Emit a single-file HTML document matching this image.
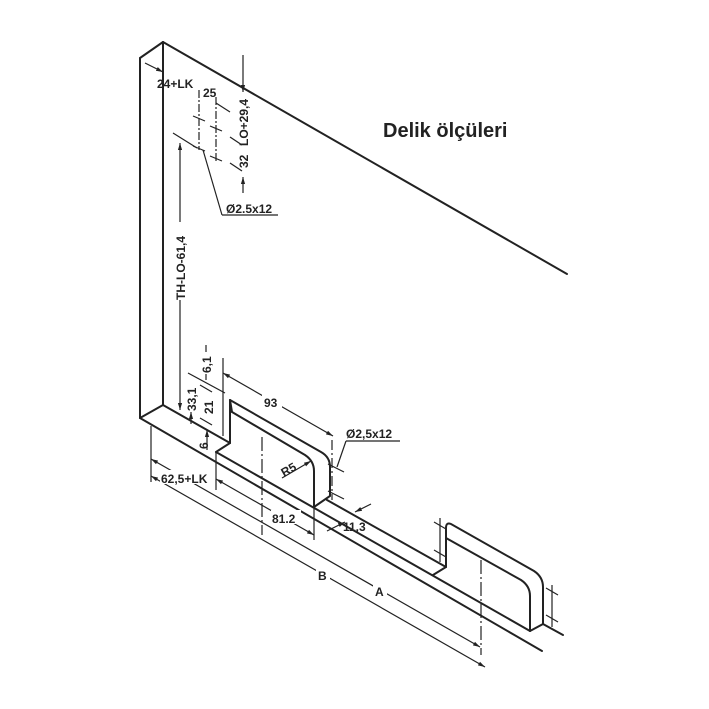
<!DOCTYPE html>
<html><head><meta charset="utf-8"><style>
html,body{margin:0;padding:0;background:#fff;}
svg{display:block;}
text{font-family:"Liberation Sans",Arial,sans-serif;font-weight:bold;fill:#222;}
</style></head><body>
<svg width="709" height="709" viewBox="0 0 709 709" xmlns="http://www.w3.org/2000/svg">
<defs>
<marker id="ar" viewBox="0 0 10 10" refX="10" refY="5" markerWidth="7" markerHeight="7" orient="auto-start-reverse" markerUnits="userSpaceOnUse"><path d="M0,2 L10,5 L0,8 z" fill="#222"/></marker>
</defs>
<g stroke="#222" stroke-width="2" fill="none" stroke-linecap="round">
<line x1="140" y1="58" x2="140" y2="418"/>
<line x1="163" y1="42" x2="163" y2="405"/>
<line x1="140" y1="58" x2="163" y2="42"/>
<line x1="163" y1="42" x2="567" y2="274"/>
<line x1="140" y1="418" x2="163" y2="405"/>
<line x1="163" y1="405" x2="230" y2="443"/>
<line x1="327" y1="500" x2="446" y2="567"/>
<line x1="543" y1="624" x2="563" y2="635"/>
<line x1="216" y1="452" x2="530" y2="631"/>
<line x1="140" y1="418" x2="542" y2="651"/>
<line x1="230" y1="443" x2="216" y2="452"/>
<line x1="230" y1="400" x2="230" y2="443"/>
<path d="M230,400 L321,452 Q330,457 330,467 L330,496 L314,507"/>
<path d="M232,412 L305,455 Q314,461 314,471 L314,507"/>
<line x1="230" y1="400" x2="232" y2="412"/>
<line x1="446" y1="567" x2="433" y2="575"/>
<path d="M446,567 L446,528 Q446,522 451,524 L534,571 Q543,577 543,587 L543,624 L530,631"/>
<path d="M446,538 L521,580 Q530,586 530,596 L530,631"/>
</g>
<g stroke="#222" stroke-width="1.2" fill="none">
<line x1="151" y1="426" x2="151" y2="482"/>
<line x1="216" y1="452" x2="216" y2="490"/>
<line x1="314" y1="507" x2="314" y2="540"/>
<line x1="223" y1="358" x2="223" y2="436"/>
<line x1="151" y1="459" x2="480" y2="647" marker-start="url(#ar)" marker-end="url(#ar)"/>
<line x1="151" y1="476" x2="485" y2="667" marker-start="url(#ar)" marker-end="url(#ar)"/>
<line x1="216" y1="479" x2="314" y2="535" marker-start="url(#ar)" marker-end="url(#ar)"/>
<line x1="223" y1="373" x2="333" y2="436" marker-start="url(#ar)" marker-end="url(#ar)"/>
<line x1="262" y1="437" x2="262" y2="535" stroke-dasharray="14,3,2,3"/>
<line x1="481" y1="560" x2="481" y2="655" stroke-dasharray="14,3,2,3"/>
<line x1="332" y1="440" x2="332" y2="500" stroke-dasharray="10,3,2,3"/>
<line x1="355" y1="512" x2="371" y2="504" marker-start="url(#ar)"/>
<line x1="327" y1="531" x2="345" y2="522" marker-end="url(#ar)"/>
<line x1="337" y1="467" x2="346" y2="441"/>
<line x1="346" y1="441" x2="400" y2="441"/>
<line x1="328" y1="464" x2="344" y2="472"/>
<line x1="328" y1="491" x2="344" y2="499"/>
<line x1="440" y1="518" x2="440" y2="562"/>
<line x1="434" y1="522" x2="446" y2="529"/>
<line x1="434" y1="550" x2="446" y2="557"/>
<line x1="552" y1="585" x2="552" y2="627"/>
<line x1="546" y1="588" x2="558" y2="595"/>
<line x1="546" y1="615" x2="558" y2="622"/>
<line x1="282" y1="478" x2="311" y2="461" marker-end="url(#ar)"/>
<line x1="188" y1="373" x2="225" y2="393"/>
<line x1="180" y1="300" x2="180" y2="410" marker-end="url(#ar)"/>
<line x1="206" y1="345" x2="206" y2="352"/>
<line x1="206" y1="374" x2="206" y2="380" />
<line x1="191" y1="412" x2="191" y2="424" marker-start="url(#ar)"/>
<line x1="207" y1="430" x2="207" y2="450" marker-start="url(#ar)"/>
<line x1="200" y1="385" x2="212" y2="392"/>
<line x1="200" y1="418" x2="212" y2="425"/>
<line x1="145" y1="63" x2="163" y2="72" marker-end="url(#ar)"/>
<line x1="199" y1="90" x2="199" y2="150" stroke-dasharray="8,2,2,2"/>
<line x1="216" y1="97" x2="216" y2="163" stroke-dasharray="8,2,2,2"/>
<line x1="193" y1="116" x2="205" y2="121"/>
<line x1="210" y1="126" x2="222" y2="131"/>
<line x1="193" y1="146" x2="205" y2="151"/>
<line x1="210" y1="156" x2="222" y2="161"/>
<line x1="216" y1="103" x2="230" y2="112"/>
<line x1="230" y1="137" x2="242" y2="145"/>
<line x1="230" y1="163" x2="242" y2="171"/>
<line x1="243" y1="55" x2="243" y2="92" marker-end="url(#ar)"/>
<line x1="243" y1="193" x2="243" y2="177" marker-end="url(#ar)"/>
<line x1="173" y1="133" x2="197" y2="148"/>
<line x1="180" y1="143" x2="180" y2="222" marker-start="url(#ar)"/>
<line x1="203" y1="150" x2="222" y2="215"/>
<line x1="222" y1="215" x2="278" y2="215"/>
</g>
<g font-size="12">
<text x="383" y="137" font-size="20">Delik ölçüleri</text>
<text x="157" y="88">24+LK</text>
<text x="203" y="97">25</text>
<text transform="translate(248,146) rotate(-90)">LO+29,4</text>
<text transform="translate(248,168) rotate(-90)">32</text>
<text x="226" y="213">Ø2.5x12</text>
<text transform="translate(185,300) rotate(-90)">TH-LO-61,4</text>
<text transform="translate(211,373) rotate(-90)">6,1</text>
<text transform="translate(196,411) rotate(-90)">33,1</text>
<text transform="translate(213,414) rotate(-90)">21</text>
<text transform="translate(208,449) rotate(-90)">6</text>
<rect x="262" y="394" width="20" height="14" fill="#fff"/>
<text x="264" y="407">93</text>
<text x="346" y="438">Ø2,5x12</text>
<text transform="translate(284,477) rotate(-30)">R5</text>
<rect x="160" y="470" width="55" height="14" fill="#fff"/>
<text x="161" y="483">62,5+LK</text>
<rect x="271" y="510" width="30" height="14" fill="#fff"/>
<text x="272" y="523">81.2</text>
<text x="343" y="531">11,3</text>
<rect x="316" y="567" width="14" height="14" fill="#fff"/>
<text x="318" y="580">B</text>
<rect x="373" y="583" width="14" height="14" fill="#fff"/>
<text x="375" y="596">A</text>
</g>
</svg>
</body></html>
